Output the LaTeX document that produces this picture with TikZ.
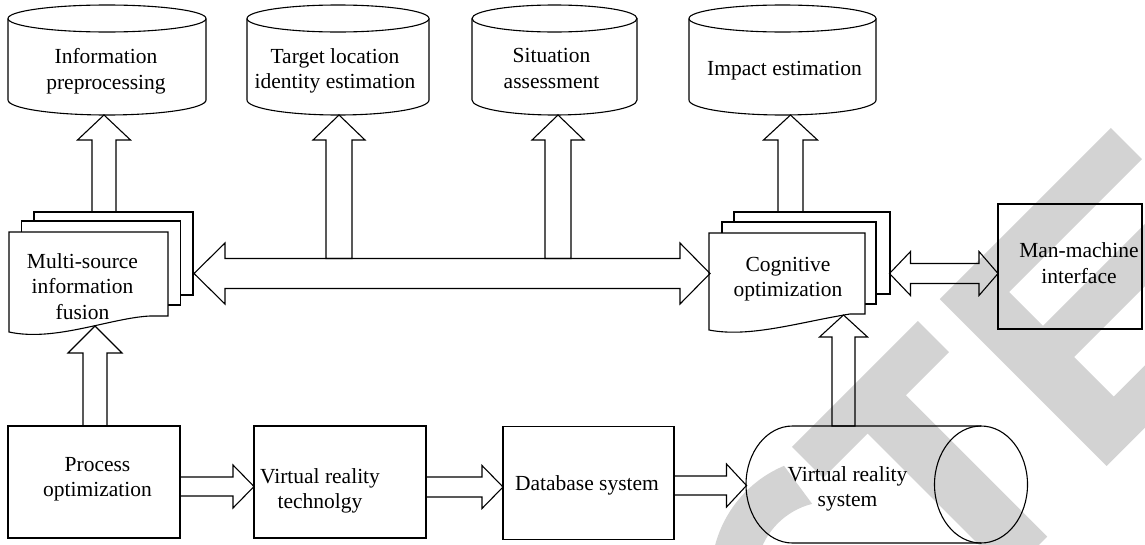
\documentclass[tikz,border=0pt]{standalone}
\usepackage{fontspec}
\setmainfont{Liberation Serif}
\usetikzlibrary{calc}
\definecolor{wmgray}{RGB}{211,211,211}
% block arrow pointing up: #1 base (y), #2 tip, #3 shaft half width, #4 head half width, #5 head length
\newcommand{\upblock}[5]{\draw[ln] let \p1=(#1), \p2=(#2) in
  (\x2-#3pt,\y1) -- (\x2-#3pt,\y2-#5pt) -- (\x2-#4pt,\y2-#5pt) -- (\x2,\y2) --
  (\x2+#4pt,\y2-#5pt) -- (\x2+#3pt,\y2-#5pt) -- (\x2+#3pt,\y1) -- cycle;}
% block arrow pointing right: #1 base (x), #2 tip
\newcommand{\rightblock}[5]{\draw[ln] let \p1=(#1), \p2=(#2) in
  (\x1,\y2+#3pt) -- (\x2-#5pt,\y2+#3pt) -- (\x2-#5pt,\y2+#4pt) -- (\x2,\y2) --
  (\x2-#5pt,\y2-#4pt) -- (\x2-#5pt,\y2-#3pt) -- (\x1,\y2-#3pt) -- cycle;}
% horizontal double block arrow: #1 left tip, #2 right tip
\newcommand{\dblblock}[6]{\draw[ln] let \p1=(#1), \p2=(#2) in
  (\x1,\y1) -- (\x1+#5pt,\y1+#4pt) -- (\x1+#5pt,\y1+#3pt) -- (\x2-#6pt,\y1+#3pt) --
  (\x2-#6pt,\y1+#4pt) -- (\x2,\y1) -- (\x2-#6pt,\y1-#4pt) -- (\x2-#6pt,\y1-#3pt) --
  (\x1+#5pt,\y1-#3pt) -- (\x1+#5pt,\y1-#4pt) -- cycle;}
\begin{document}
\begin{tikzpicture}[x=1pt,y=-1pt,
  ln/.style={draw=black,line width=1.1pt,line join=miter},
  box/.style={ln,rectangle,inner sep=0pt,outer sep=0pt},
  txt/.style={font=\fontsize{21.5}{25.5}\selectfont,align=center,inner sep=0pt}]
\useasboundingbox (0,0) rectangle (1145,544);
\fill[white] (0,0) rectangle (1145,544);

% ---------- watermark ----------
\begin{scope}
\clip (0,0) rectangle (1145,544);
\begin{scope}[x={(0.7071pt,0.7071pt)},y={(-0.7071pt,0.7071pt)}]
% C
\fill[wmgray] (225,-883.8) arc[start angle=68,end angle=292,x radius=120,y radius=121]
  -- (218,-1061.5) arc[start angle=300.5,end angle=59.5,x radius=75,y radius=76] -- cycle;
% T
\fill[wmgray] (244,-876) -- (422,-876) -- (422,-920) -- (361,-920) -- (361,-1120)
  -- (307,-1120) -- (307,-920) -- (244,-920) -- cycle;
% E
\fill[wmgray] (453,-876) -- (695,-876) -- (695,-920) -- (507,-920) -- (507,-968)
  -- (670,-968) -- (670,-1012) -- (507,-1012) -- (507,-1068) -- (705,-1068)
  -- (705,-1112) -- (453,-1112) -- cycle;
\end{scope}
\end{scope}

% ---------- top cylinders ----------
\draw[ln] (8,18.5) -- (8,100) arc[start angle=180,end angle=0,x radius=99,y radius=15] -- (206,18.5);
\draw[ln] (107,18.5) ellipse[x radius=99,y radius=13.5];
\draw[ln] (247,18.5) -- (247,100) arc[start angle=180,end angle=0,x radius=91,y radius=15] -- (429,18.5);
\draw[ln] (338,18.5) ellipse[x radius=91,y radius=13.5];
\draw[ln] (472,18.5) -- (472,100) arc[start angle=180,end angle=0,x radius=82.5,y radius=15] -- (637,18.5);
\draw[ln] (554.5,18.5) ellipse[x radius=82.5,y radius=13.5];
\draw[ln] (689,18.5) -- (689,100) arc[start angle=180,end angle=0,x radius=93.5,y radius=15] -- (876,18.5);
\draw[ln] (782.5,18.5) ellipse[x radius=93.5,y radius=13.5];
\node[txt] (ipt) at (106,71) {Information\\preprocessing};
\node[txt] (tlt) at (335,71) {Target location\\identity estimation};
\node[txt] (sat) at (551.5,68.5) {Situation\\assessment};
\node[txt] (iet) at (784.5,71) {Impact estimation};
\coordinate (ip-in) at (104,115);
\coordinate (tl-in) at (339,115);
\coordinate (sa-in) at (558,115);
\coordinate (ie-in) at (790.5,115);

% ---------- multi-source information fusion (multi-document) ----------
\node[box,fill=white,minimum width=159pt,minimum height=83pt] (mfback) at (113.5,253.5) {};
\node[box,fill=white,minimum width=159pt,minimum height=84pt] (mfmid) at (101,263) {};
\draw[ln,fill=white] (9,232) -- (168,232) -- (168,316) -- (150,316)
  .. controls (110,318) and (55,342) .. (9,332) -- cycle;
\node[txt] (mft) at (82.5,286.5) {Multi-source\\information\\fusion};
\coordinate (mf-in) at (95,326);

% ---------- cognitive optimization (multi-document) ----------
\node[box,fill=white,minimum width=156pt,minimum height=82pt] (coback) at (812,253) {};
\node[box,fill=white,minimum width=154pt,minimum height=82pt] (comid) at (799,263) {};
\draw[ln,fill=white] (709,233) -- (865,233) -- (865,314) -- (850,314)
  .. controls (800,322) and (750,338) .. (709,330) -- cycle;
\node[txt] (cot) at (788,279) {Cognitive\\optimization};
\coordinate (co-in) at (843.5,315);

% ---------- man-machine interface ----------
\node[box,minimum width=144pt,minimum height=125pt] (mmbox) at (1070,266.5) {};
\node[txt] (mmt) at (1079,263) {Man-machine\\interface};

% ---------- bottom row ----------
\node[box,minimum width=172pt,minimum height=112pt] (pobox) at (94,482) {};
\node[txt] (pot) at (97.5,479) {Process\\optimization};
\node[box,minimum width=172pt,minimum height=112pt] (vtbox) at (340,482) {};
\node[txt] (vtt) at (320,491) {Virtual reality\\technolgy};
\node[box,minimum width=171pt,minimum height=113pt] (dbbox) at (588.5,483) {};
\node[txt] (dbt) at (587,485.5) {Database system};

% horizontal cylinder
\draw[ln] (981,426) -- (792.5,426) arc[start angle=270,end angle=90,x radius=46.5,y radius=58.5] -- (981,543);
\draw[ln] (981,484.5) ellipse[x radius=46.5,y radius=58.5];
\node[txt] (vst) at (847.5,489) {Virtual reality\\system};
\coordinate (vs-top) at (843.5,426);

% ---------- block arrows ----------
\coordinate (busL) at (194,273.5);
\coordinate (busR) at (710,273.5);
\coordinate (busT) at (452,258.5);
\dblblock{busL}{busR}{15}{30.5}{31}{30}
\coordinate (mmL) at (889.5,273.5);
\coordinate (mmR) at (998,273.5);
\dblblock{mmL}{mmR}{10}{22}{21}{19}

\upblock{mfback.north}{ip-in}{12}{26.5}{25}
\upblock{busT}{tl-in}{13}{26}{25}
\upblock{busT}{sa-in}{13}{26}{25}
\upblock{coback.north}{ie-in}{12.5}{27}{25}
\upblock{pobox.north}{mf-in}{12}{27}{27}
\upblock{vs-top}{co-in}{11.5}{24}{22}

\coordinate (vt-in) at (254,486.5);
\coordinate (db-in) at (503,487);
\coordinate (vs-in) at (746.5,485.5);
\rightblock{pobox.east}{vt-in}{9.5}{21.5}{21}
\rightblock{vtbox.east}{db-in}{10}{21.5}{21}
\rightblock{dbbox.east}{vs-in}{9.5}{21.5}{20}
\end{tikzpicture}
\end{document}
